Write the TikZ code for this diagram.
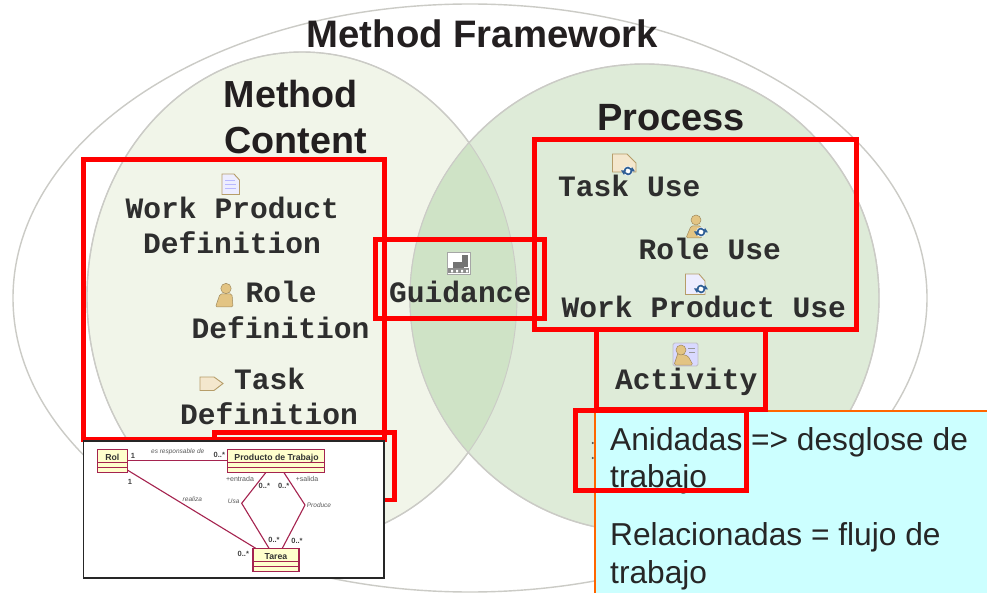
\documentclass[tikz,border=0pt]{standalone}
\usepackage{fontspec}
\setmainfont{Liberation Sans}
\newfontfamily\monob{Liberation Mono}
\definecolor{venA}{HTML}{F1F5E9}
\definecolor{venB}{HTML}{DEEBD8}
\definecolor{venC}{HTML}{CFE3C6}
\definecolor{venLine}{HTML}{CBCBC6}
\definecolor{inkT}{HTML}{231F20}
\definecolor{umlLine}{HTML}{A5234F}
\definecolor{umlFill}{HTML}{FFFFCC}
\definecolor{noteFill}{HTML}{CCFFFF}
\definecolor{noteLine}{HTML}{FF6600}
\definecolor{iconTan}{HTML}{E3C483}
\definecolor{iconBlue}{HTML}{2F5F96}
\newcommand{\cycleicon}[2]{%
  \begin{scope}[shift={(#1,#2)}]
    \fill[white] (0,0) circle [radius=5];
    \draw[iconBlue,line width=1.7pt] (-3.5,0) arc [start angle=180,end angle=330,radius=3.5];
    \draw[iconBlue,line width=1.7pt] (3.5,0) arc [start angle=0,end angle=150,radius=3.5];
    \fill[iconBlue] (7,0.5) -- (2,0.5) -- (4,-4) -- cycle;
    \fill[iconBlue] (-7,-0.5) -- (-2,-0.5) -- (-4,4) -- cycle;
  \end{scope}}
\tikzset{
  venn/.style={draw=venLine,line width=1.4pt},
  hbox/.style={draw=red,line width=5pt,fill=none,outer sep=0pt,inner sep=0pt,anchor=north west},
  head/.style={font=\fontsize{37.7}{40}\selectfont\bfseries,text=inkT,anchor=base west,inner sep=0},
  mono/.style={font=\fontsize{29.6}{35}\selectfont\monob\bfseries,text=black!82,anchor=base west,inner sep=0},
  notetext/.style={font=\fontsize{31.7}{39}\selectfont,text=black!85,anchor=base west,inner sep=0},
  umlbox/.style={draw=umlLine,line width=1.3pt,fill=umlFill,outer sep=0pt,inner sep=0pt,anchor=north west},
  umlname/.style={font=\fontsize{8.7}{10}\selectfont\bfseries,text=black!80,inner sep=0,anchor=base},
  umlsmall/.style={font=\fontsize{6.5}{7}\selectfont\itshape,text=black!65,inner sep=0},
  umlmult/.style={font=\fontsize{7.5}{8}\selectfont\bfseries,text=black!75,inner sep=0},
  umlrole/.style={font=\fontsize{7}{8}\selectfont,text=black!65,inner sep=0},
  umllink/.style={draw=umlLine,line width=1.1pt},
  icon/.style={draw=iconTan!80!black,line width=.9pt,fill=iconTan!40},
  iconbody/.style={fill=iconTan,draw=iconTan!70!black,line width=.5pt,rounded corners=1.5pt},
}
\begin{document}
\begin{tikzpicture}[x=1pt,y=-1pt]
\useasboundingbox (0,0) rectangle (987,593);
\fill[white] (0,0) rectangle (987,593);
% Venn
\draw[venn,fill=white] (470,298) ellipse [x radius=457,y radius=294];
\draw[venn,fill=venA] (302,297) ellipse [x radius=215,y radius=245];
\draw[venn,fill=venB] (644.5,298) ellipse [x radius=234.5,y radius=234];
\begin{scope}
  \clip (302,297) ellipse [x radius=215,y radius=245];
  \fill[venC] (644.5,298) ellipse [x radius=234.5,y radius=234];
\end{scope}
\draw[venLine,line width=.9pt] (302,297) ellipse [x radius=215,y radius=245];
\draw[venLine,line width=.9pt] (644.5,298) ellipse [x radius=234.5,y radius=234];
% Headings
\node[head,font=\fontsize{38.3}{40}\selectfont\bfseries] (title) at (306.5,48) {Method Framework};
\node[head] (mc1) at (223.5,108) {Method};
\node[head] (mc2) at (224,154) {Content};
\node[head,font=\fontsize{38}{40}\selectfont\bfseries] (proc) at (597,131) {Process};
% Method content texts
\node[mono] (wp1) at (125.5,218.7) {Work Product};
\node[mono] (wp2) at (143,254) {Definition};
\node[mono] (r1) at (245.5,303) {Role};
\node[mono] (r2) at (191.5,338.7) {Definition};
\node[mono] (t1) at (234,389.3) {Task};
\node[mono] (t2) at (180,424.3) {Definition};
\node[mono] (g) at (389,303) {Guidance};
% Process texts
\node[mono] (tu) at (558,196.3) {Task Use};
\node[mono] (ru) at (638.5,259.3) {Role Use};
\node[mono] (wu) at (561.5,318) {Work Product Use};
\node[mono] (ac) at (615,389.3) {Activity};
% Icons
\draw[icon,fill=blue!7] (222,174) -- (234,174) -- (239.5,180) -- (239.5,194.5) -- (222,194.5) -- cycle;
\draw[blue!28,line width=.8pt] (225,180) -- (235,180) (225,184) -- (236,184) (225,188) -- (236,188);
\fill[iconbody] (215.5,307) -- (220,294) -- (232,294) -- (233,307) -- cycle;
\fill[iconbody] (226,288.5) circle [radius=5.2];
\draw[icon] (200,377) -- (214,377) -- (223,383.5) -- (214,390.5) -- (200,390.5) -- cycle;
% guidance icon
\draw[black!35,fill=white,line width=.7pt] (447,252) rectangle (470,274);
\fill[black!55] (462,255) rectangle (468,267);
\fill[black!55] (453,262) rectangle (464,268);
\fill[black!45] (448,268) rectangle (469,273.5);
\fill[white] (451,270) rectangle (453,272.5) (456,270) rectangle (458,272.5) (461,270) rectangle (463,272.5) (466,270) rectangle (468,272.5);
% use icons
\draw[icon] (612.5,154) -- (627,154) -- (636,163) -- (636,172) -- (612.5,172) -- cycle;
\cycleicon{628}{171}
\fill[iconbody] (686,238) -- (691,226) -- (701,226) -- (702,238) -- cycle;
\fill[iconbody] (696,220) circle [radius=5];
\cycleicon{701}{232}
\draw[icon,fill=blue!7] (685.5,274) -- (699,274) -- (705,281) -- (705,294.5) -- (685.5,294.5) -- cycle;
\cycleicon{701}{289}
\draw[black!25,fill=white!85!blue,line width=.8pt,rounded corners=1.5pt] (673,343) rectangle (698,366);
\fill[iconbody] (674,365) -- (678,353) -- (688,356) -- (693,365) -- cycle;
\fill[iconbody] (681,350) circle [radius=5];
\draw[black!40,line width=.6pt] (688,348) -- (695,348) (689,352) -- (695,352);
% Dots left of note
\fill[black!70] (592.7,443) circle [radius=1.1] (592.7,458) circle [radius=1.1];
% Red boxes beneath diagram panels
\node[hbox,minimum width=300.5pt,minimum height=280pt] (bmc) at (83.5,159.5) {};
\node[hbox,line width=4.5pt,minimum width=180pt,minimum height=67.5pt] (bsub) at (214.5,432.5) {};
\node[hbox,minimum width=169.5pt,minimum height=79pt] (bg) at (375,240) {};
\node[hbox,minimum width=321.7pt,minimum height=189.5pt] (bp) at (534.8,139.5) {};
% UML panel
\node[draw=black!85,line width=1.2pt,fill=white,outer sep=0pt,minimum width=300.5pt,minimum height=137pt,anchor=north west,inner sep=0] (panel) at (83.5,441) {};
\node[umlbox,minimum width=30pt,minimum height=23.4pt] (rol) at (97.3,449.3) {};
\node[umlname] (roln) at (112.3,460) {Rol};
\draw[umlLine,line width=.8pt] (rol.west |- 0,462) -- (rol.east |- 0,462) (rol.west |- 0,467) -- (rol.east |- 0,467);
\node[umlbox,minimum width=97pt,minimum height=23.4pt] (pt) at (227.3,449.3) {};
\node[umlname] (ptn) at (276.5,460) {Producto de Trabajo};
\draw[umlLine,line width=.8pt] (pt.west |- 0,462) -- (pt.east |- 0,462) (pt.west |- 0,467) -- (pt.east |- 0,467);
\node[umlbox,minimum width=46pt,minimum height=23.4pt] (ta) at (253,548.3) {};
\node[umlname] (tan2) at (276,559) {Tarea};
\draw[umlLine,line width=.8pt] (ta.west |- 0,561) -- (ta.east |- 0,561) (ta.west |- 0,566) -- (ta.east |- 0,566);
\coordinate (usa) at (241.7,503.3);
\coordinate (prod) at (305,505);
\coordinate (ptl) at (265.7,472.7);
\coordinate (ptr) at (284,472.7);
\coordinate (tal) at (269,548.3);
\coordinate (tar) at (282.3,548.3);
\coordinate (tan) at (255.7,548.3);
\coordinate (rsw) at (127.3,470);
\draw[umllink] (rol.east |- 0,460.7) -- (pt.west |- 0,460.7);
\draw[umllink] (rsw) -- (tan);
\draw[umllink] (ptl) -- (usa) -- (tal);
\draw[umllink] (ptr) -- (prod) -- (tar);
\node[umlsmall] (l1) at (177.7,451.7) {es responsable de};
\node[umlmult] (m1) at (133,456) {1};
\node[umlmult] (m2) at (219.3,454.5) {0..*};
\node[umlmult] (m3) at (130,481.7) {1};
\node[umlsmall] (l2) at (192.3,498.7) {realiza};
\node[umlrole] (l3) at (240,478.7) {+entrada};
\node[umlrole] (l4) at (307,479) {+salida};
\node[umlmult] (m4) at (264.3,485.5) {0..*};
\node[umlmult] (m5) at (283.7,485.5) {0..*};
\node[umlsmall] (l5) at (233.7,501.7) {Usa};
\node[umlsmall] (l6) at (319,504.7) {Produce};
\node[umlmult] (m6) at (274,539.5) {0..*};
\node[umlmult] (m7) at (297,540.5) {0..*};
\node[umlmult] (m8) at (243.3,553.5) {0..*};
% Note
\node[draw=noteLine,line width=1.8pt,fill=noteFill,outer sep=0pt,minimum width=420pt,minimum height=200pt,anchor=north west,inner sep=0] (note) at (595,410.7) {};
\node[notetext] (n1) at (610,450) {Anidadas => desglose de};
\node[notetext] (n2) at (610,487.7) {trabajo};
\node[notetext] (n3) at (610,545.5) {Relacionadas = flujo de};
\node[notetext] (n4) at (610,583.5) {trabajo};
\node[hbox,minimum width=169.5pt,minimum height=80.5pt] (bac) at (596,329) {};
\node[hbox,minimum width=171pt,minimum height=79.5pt] (ban) at (575,410.5) {};
\end{tikzpicture}
\end{document}
